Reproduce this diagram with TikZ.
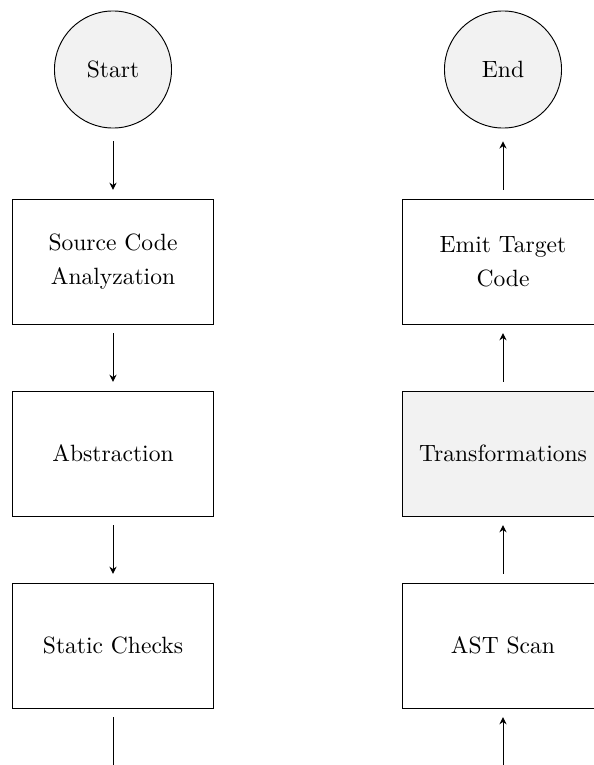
\documentclass[tikz,border=0pt]{standalone}
\usetikzlibrary{arrows.meta}

\tikzset{
  block/.style={draw, minimum width=3cm, minimum height=53.1pt, align=center,
    font=\linespread{1.2}\selectfont},
  term/.style={draw, circle, fill=gray!10, minimum size=49.7pt},
  flow/.style={-{Stealth[length=3pt,width=3pt]}, shorten <=3.7pt, shorten >=3.7pt},
}

\begin{document}
\begin{tikzpicture}[x=0.4246pt, y=-0.4246pt]

  \newcommand\X{390}
  \newcommand\Y{192}

  \useasboundingbox (0,0) rectangle (594,765);
  \clip (0,0) rectangle (594,765);

% left column, going down
  \node[term]  (start)  at (113, 69.5+0*\Y) {Start};
  \node[block] (srcana) at (113, 69.5+1*\Y) {Source Code\\Analyzation};
  \node[block] (abstr)  at (113, 69.5+2*\Y) {Abstraction};
  \node[block] (checks) at (113, 69.5+3*\Y) {Static Checks};

% right column, going up
  \node[term]  (stop)    at (113+\X, 69.5+0*\Y) {End};
  \node[block] (emit)    at (113+\X, 69.5+1*\Y) {Emit Target\\Code};
  \node[block, fill=gray!10] (transf) at (113+\X, 69.5+2*\Y) {Transformations};
  \node[block] (astscan) at (113+\X, 69.5+3*\Y) {AST Scan};

  \draw[flow, shorten <=5.5pt] (start) -- (srcana);
  \draw[flow] (srcana) -- (abstr);
  \draw[flow] (abstr) -- (checks);
  \draw[flow] (checks.south) -- ++(0,120) -| (astscan.south);
  \draw[flow] (astscan) -- (transf);
  \draw[flow] (transf) -- (emit);
  \draw[flow, shorten >=5.5pt] (emit) -- (stop);

\end{tikzpicture}
\end{document}
